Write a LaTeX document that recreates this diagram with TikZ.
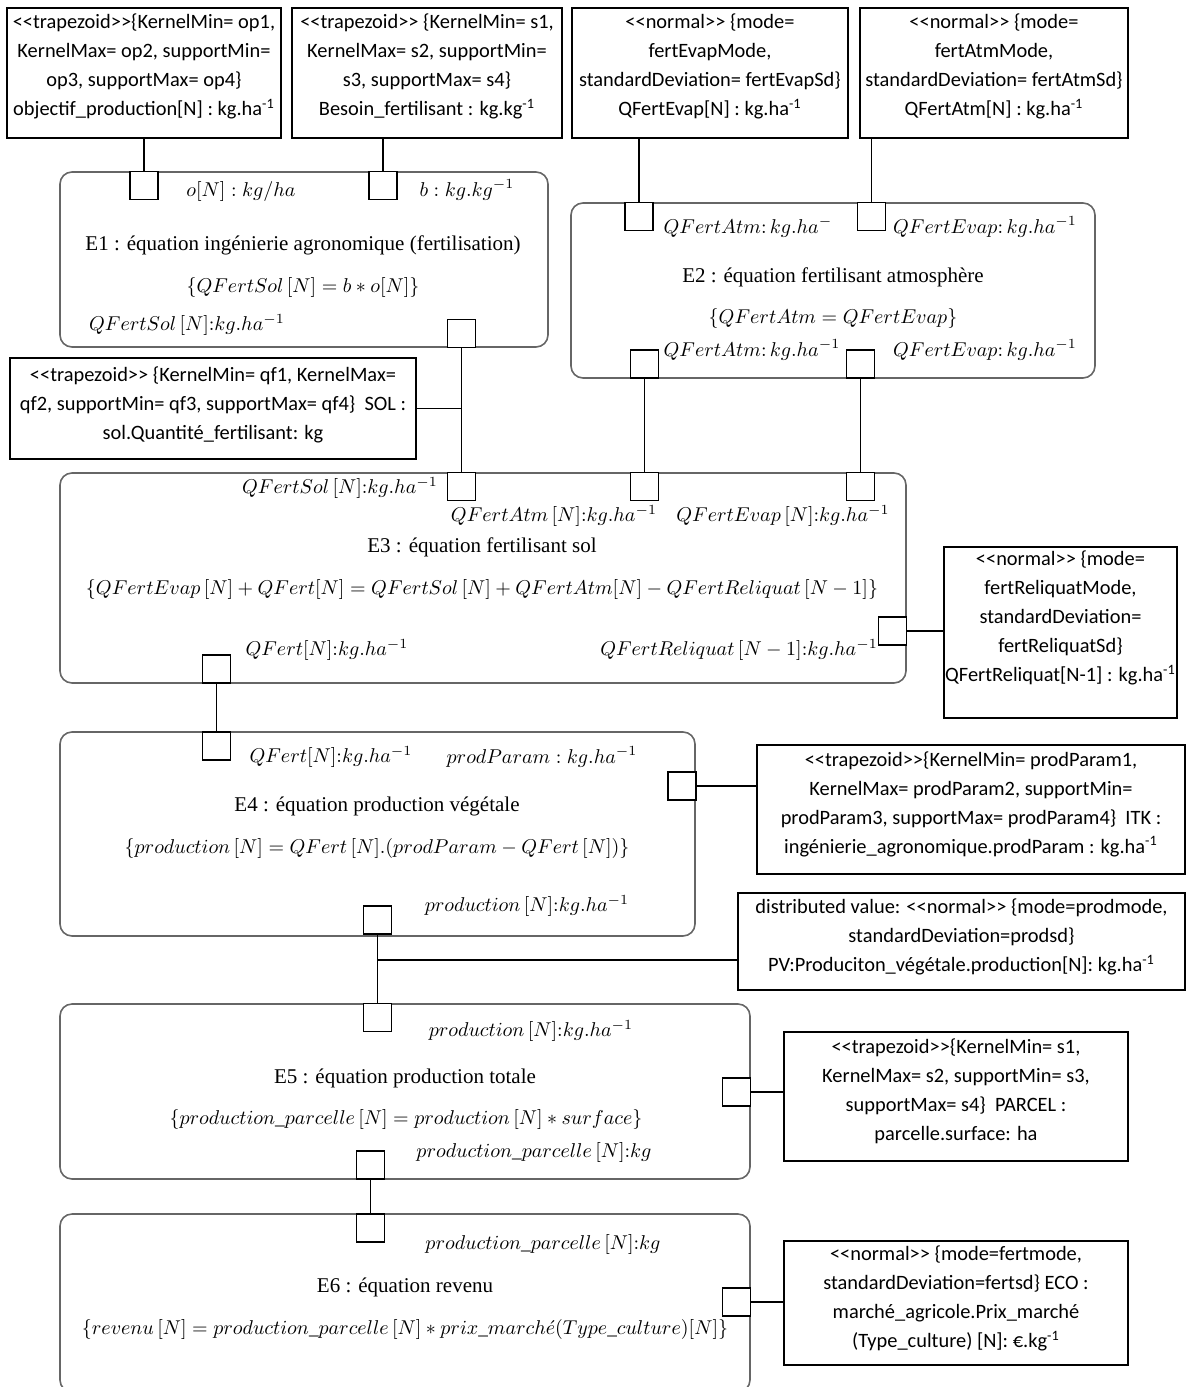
\documentclass[tikz,border=0pt]{standalone}
\usepackage{fontspec}
\setmainfont{Liberation Serif}
\newfontfamily\boxfont{Carlito}
\usepackage{tikz}
\newcommand\dlt{<\kern0pt<}
\newcommand\dgt{>\kern0pt>}
\newcommand\uu[1]{\textsuperscript{#1}}

\tikzset{
  distbox/.style 2 args={draw, line width=0.6pt, minimum width=#1*0.5pt, minimum height=#2*0.5pt, inner sep=0pt},
  eqbox/.style 2 args={draw=black!60, line width=0.8pt, rounded corners=6pt, minimum width=#1*0.5pt, minimum height=#2*0.5pt, inner sep=0pt},
  port/.style={draw, fill=white, line width=0.6pt, minimum size=14pt, inner sep=0pt},
  dtext/.style={font=\boxfont\fontsize{10.2}{14.5}\selectfont, align=center, inner sep=0pt},
  lbl/.style={font=\fontsize{9.6}{12}\selectfont, inner sep=0pt},
  ttl/.style={font=\fontsize{10.5}{13}\selectfont, inner sep=0pt},
  link/.style={line width=0.6pt}
}

\begin{document}
\begin{tikzpicture}[x=0.5pt,y=-0.5pt]
\useasboundingbox (0,0) rectangle (1186,1387);
% distributions, top row
\node[distbox={274}{130}] (a1) at (144,73) {};
\node[dtext] (t1) at (144,66.5) {\dlt trapezoid\dgt\{KernelMin= op1,\\KernelMax= op2, supportMin=\\op3, supportMax= op4\}\\objectif\_production[N] : kg.ha\uu{-1}};
\node[distbox={270}{130}] (a2) at (427,73) {};
\node[dtext] (t2) at (427,66.5) {\dlt trapezoid\dgt{} \{KernelMin= s1,\\KernelMax= s2, supportMin=\\s3, supportMax= s4\}\\Besoin\_fertilisant : kg.kg\uu{-1}};
\node[distbox={276}{130}] (a3) at (710,73) {};
\node[dtext] (t3) at (710,66.5) {\dlt normal\dgt{} \{mode=\\fertEvapMode,\\standardDeviation= fertEvapSd\}\\QFertEvap[N] : kg.ha\uu{-1}};
\node[distbox={268}{130}] (a4) at (994,73) {};
\node[dtext] (t4) at (994,66.5) {\dlt normal\dgt{} \{mode=\\fertAtmMode,\\standardDeviation= fertAtmSd\}\\QFertAtm[N] : kg.ha\uu{-1}};
% E1
\node[eqbox={488}{175}] (e1) at (304,259.5) {};
\node[lbl] (e1i1) at (241,191) {$o[N] : kg/ha$};
\node[lbl] (e1i2) at (467,190) {$b : kg.kg^{-1}$};
\node[ttl] (e1t) at (303,245) {E1 : équation ingénierie agronomique (fertilisation)};
\node[lbl] (e1q) at (303,287) {$\{QFertSol\,[N] = b * o[N]\}$};
\node[lbl] (e1o) at (187,325) {$QFertSol\,[N]{:}kg.ha^{-1}$};
\node[port] (p1a) at (144,185.5) {};
\node[port] (p1b) at (383,185.5) {};
\node[port] (p1o) at (461.5,333.5) {};
% E2
\node[eqbox={524}{175}] (e2) at (833,290.5) {};
\node[lbl] (e2i1) at (748,227) {$QFertAtm{:}\,kg.ha^{-}$};
\node[lbl] (e2i2) at (985,227) {$QFertEvap{:}\,kg.ha^{-1}$};
\node[ttl] (e2t) at (833,277) {E2 : équation fertilisant atmosphère};
\node[lbl] (e2q) at (833,318) {$\{QFertAtm = QFertEvap\}$};
\node[lbl] (e2o1) at (752,350) {$QFertAtm{:}\,kg.ha^{-1}$};
\node[lbl] (e2o2) at (985,350) {$QFertEvap{:}\,kg.ha^{-1}$};
\node[port] (p2a) at (639,216.5) {};
\node[port] (p2b) at (871.5,216.5) {};
\node[port] (p2c) at (644.5,364) {};
\node[port] (p2d) at (860.5,364) {};
% soil
\node[distbox={406}{101}] (sol) at (213,408.5) {};
\node[dtext] (t5) at (213,405) {\dlt trapezoid\dgt{} \{KernelMin= qf1, KernelMax=\\qf2, supportMin= qf3, supportMax= qf4\}~ SOL :\\sol.Quantité\_fertilisant: kg};
% E3
\node[eqbox={846}{210}] (e3) at (483,578) {};
\node[lbl] (e3i1) at (340,488) {$QFertSol\,[N]{:}kg.ha^{-1}$};
\node[lbl] (e3i2) at (554,516) {$QFertAtm\,[N]{:}kg.ha^{-1}$};
\node[lbl] (e3i3) at (783,516) {$QFertEvap\,[N]{:}kg.ha^{-1}$};
\node[ttl] (e3t) at (482,547) {E3 : équation fertilisant sol};
\node[lbl] (e3q) at (482,589) {$\{QFertEvap\,[N] + QFert[N] = QFertSol\,[N] + QFertAtm[N] - QFertReliquat\,[N-1]\}$};
\node[lbl] (e3o) at (327,650) {$QFert[N]{:}kg.ha^{-1}$};
\node[lbl] (e3i4) at (739,650) {$QFertReliquat\,[N-1]{:}kg.ha^{-1}$};
\node[port] (p3a) at (461.5,486.5) {};
\node[port] (p3b) at (644.5,486.5) {};
\node[port] (p3c) at (860.5,486.5) {};
\node[port] (p3r) at (892.5,631) {};
\node[port] (p3o) at (216.5,669) {};
\node[distbox={233}{171}] (rel) at (1060.5,632.5) {};
\node[dtext] (t6) at (1060.5,618) {\dlt normal\dgt{} \{mode=\\fertReliquatMode,\\standardDeviation=\\fertReliquatSd\}\\QFertReliquat[N-1] : kg.ha\uu{-1}};
% E4
\node[eqbox={635}{204}] (e4) at (377.5,834) {};
\node[lbl] (e4i1) at (331,757) {$QFert[N]{:}kg.ha^{-1}$};
\node[lbl] (e4i2) at (542,757) {$prodParam : kg.ha^{-1}$};
\node[ttl] (e4t) at (377,806) {E4 : équation production végétale};
\node[lbl] (e4q) at (377,848) {$\{production\,[N] = QFert\,[N].(prodParam - QFert\,[N])\}$};
\node[lbl] (e4o) at (527,906) {$production\,[N]{:}kg.ha^{-1}$};
\node[port] (p4a) at (216.5,746) {};
\node[port] (p4r) at (682,786) {};
\node[port] (p4o) at (377.5,920) {};
\node[distbox={428}{129}] (itk) at (971,809.5) {};
\node[dtext] (t7) at (971,804) {\dlt trapezoid\dgt\{KernelMin= prodParam1,\\KernelMax= prodParam2, supportMin=\\prodParam3, supportMax= prodParam4\}~ ITK :\\ingénierie\_agronomique.prodParam : kg.ha\uu{-1}};
\node[distbox={447}{97}] (pv) at (961.5,941.5) {};
\node[dtext] (t8) at (961.5,937) {distributed value: \dlt normal\dgt{} \{mode=prodmode,\\standardDeviation=prodsd\}\\PV:Produciton\_végétale.production[N]: kg.ha\uu{-1}};
\coordinate (pvj) at (738,960);
% E5
\node[eqbox={690}{175}] (e5) at (405,1091.5) {};
\node[lbl] (e5i1) at (531,1031) {$production\,[N]{:}kg.ha^{-1}$};
\node[ttl] (e5t) at (405,1078) {E5 : équation production totale};
\node[lbl] (e5q) at (406,1119) {$\{production\_parcelle\,[N] = production\,[N] * surface\}$};
\node[lbl] (e5o) at (534,1152) {$production\_parcelle\,[N]{:}kg$};
\node[port] (p5a) at (377.5,1017.5) {};
\node[port] (p5r) at (736.5,1092) {};
\node[port] (p5o) at (370.5,1165) {};
\node[distbox={344}{129}] (parcel) at (956,1096.5) {};
\node[dtext] (t9) at (956,1091) {\dlt trapezoid\dgt\{KernelMin= s1,\\KernelMax= s2, supportMin= s3,\\supportMax= s4\}~ PARCEL :\\parcelle.surface: ha};
% E6
\node[eqbox={690}{178}] (e6) at (405,1303) {};
\node[lbl] (e6i1) at (543,1244) {$production\_parcelle\,[N]{:}kg$};
\node[ttl] (e6t) at (405,1287) {E6 : équation revenu};
\node[lbl] (e6q) at (405,1329) {$\{revenu\,[N] = production\_parcelle\,[N] * prix\_march\acute{e}(Type\_culture)[N]\}$};
\node[port] (p6a) at (370.5,1228) {};
\node[port] (p6r) at (736.5,1302) {};
\node[distbox={344}{124}] (eco) at (956,1303) {};
\node[dtext] (t10) at (956,1298.5) {\dlt normal\dgt{} \{mode=fertmode,\\standardDeviation=fertsd\} ECO :\\marché\_agricole.Prix\_marché\\(Type\_culture) [N]: €.kg\uu{-1}};
% links
\draw[link] (a1.south -| p1a) -- (p1a.north);
\draw[link] (a2.south -| p1b) -- (p1b.north);
\draw[link] (a3.south -| p2a) -- (p2a.north);
\draw[link] (a4.south -| p2b) -- (p2b.north);
\draw[link] (p1o.south) -- (p3a.north);
\draw[link] (sol.east) -- (sol.east -| p1o);
\draw[link] (p2c.south) -- (p3b.north);
\draw[link] (p2d.south) -- (p3c.north);
\draw[link] (p3r.east) -- (p3r.east -| rel.west);
\draw[link] (p3o.south) -- (p4a.north);
\draw[link] (p4r.east) -- (p4r.east -| itk.west);
\draw[link] (p4o.south) -- (p5a.north);
\draw[link] (pvj) -- (pvj -| p4o);
\draw[link] (p5r.east) -- (p5r.east -| parcel.west);
\draw[link] (p5o.south) -- (p6a.north);
\draw[link] (p6r.east) -- (p6r.east -| eco.west);
\end{tikzpicture}
\end{document}
